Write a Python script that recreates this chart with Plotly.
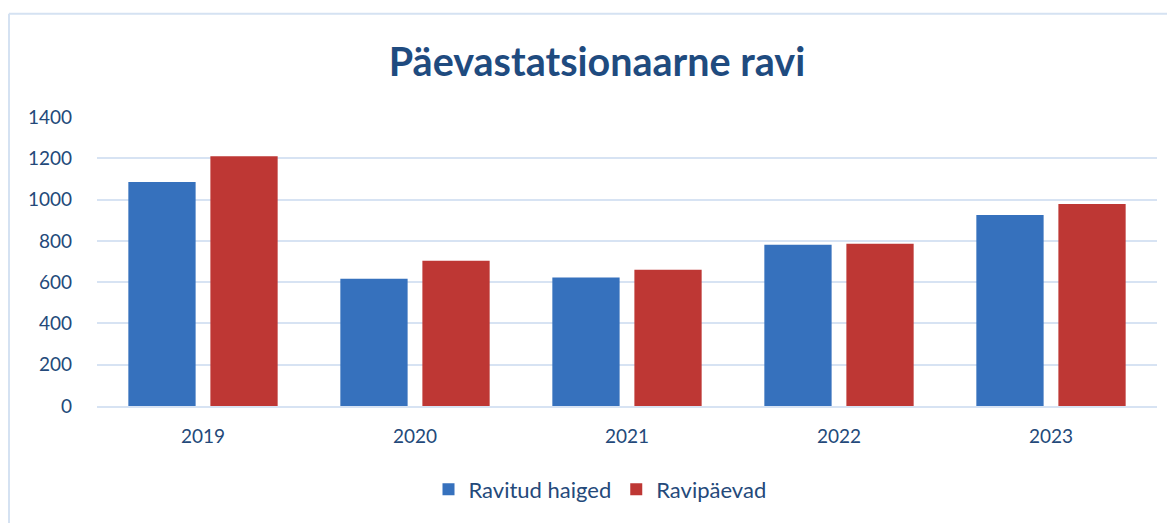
import plotly.graph_objects as go

years = ["2019", "2020", "2021", "2022", "2023"]
ravitud_haiged = [1085, 617, 622, 781, 925]
ravipaevad = [1210, 704, 660, 786, 978]
y_ticks = [0, 200, 400, 600, 800, 1000, 1200, 1400]

# page has an 8px body margin, so the figure is drawn from (8, 8)
OFF = 8
W, H = 1175 - OFF, 523 - OFF
L, R, T, B = 97 - OFF, 18, 117 - OFF, 115
pw, ph = W - L - R, H - T - B
y0px = 408 - OFF  # pixel row of value 0 in figure coords

text_color = "#24497A"
grid_color = "#D7E3F3"
border_color = "#D5E2F2"
font_family = "Lato, 'Open Sans', sans-serif"

fig = go.Figure()
fig.add_trace(go.Bar(
    x=years, y=ravitud_haiged, name="Ravitud haiged",
    marker=dict(color="#3671BD", line=dict(width=0)),
))
fig.add_trace(go.Bar(
    x=years, y=ravipaevad, name="Ravipäevad",
    marker=dict(color="#BE3734", line=dict(width=0)),
))

bx = (9 - 97) / pw
by = (408 - 13) / ph

fig.update_layout(
    width=W, height=H,
    margin=dict(l=L, r=R, t=T, b=B, pad=0),
    paper_bgcolor="white", plot_bgcolor="white",
    barmode="group", bargap=0.226, bargroupgap=0.18,
    font=dict(family=font_family, color=text_color, size=19),
    title=dict(
        text="<b>Päevastatsionaarne ravi</b>",
        x=(597 - OFF) / W, xanchor="center", xref="container",
        y=1 - (62 - OFF) / H, yanchor="middle", yref="container",
        font=dict(size=39.5, color="#1F4B7F", family=font_family),
    ),
    showlegend=True,
    legend=dict(
        orientation="h", x=(600 - OFF - L) / pw, xanchor="center",
        y=(y0px - (492 - OFF)) / ph, yanchor="middle",
        font=dict(size=22, color=text_color),
        itemwidth=30, bgcolor="rgba(0,0,0,0)",
    ),
    xaxis=dict(
        type="category", showgrid=False, showline=True,
        linecolor=grid_color, linewidth=2,
        ticks="", ticklabelstandoff=12,
        tickfont=dict(size=19, color=text_color),
    ),
    yaxis=dict(
        range=[0, 1400], tickvals=y_ticks, ticktext=[str(v) for v in y_ticks],
        showgrid=True, gridcolor=grid_color, gridwidth=2,
        zeroline=False, showline=False, ticks="", ticklabelstandoff=24,
        tickfont=dict(size=19, color=text_color),
    ),
    shapes=[
        dict(type="line", xref="paper", yref="paper",
             x0=bx, x1=bx, y0=-2, y1=by,
             line=dict(color=border_color, width=2), layer="below"),
        dict(type="line", xref="paper", yref="paper",
             x0=bx, x1=1.2, y0=by, y1=by,
             line=dict(color=border_color, width=2), layer="below"),
    ],
)

fig.write_html("out.html")
